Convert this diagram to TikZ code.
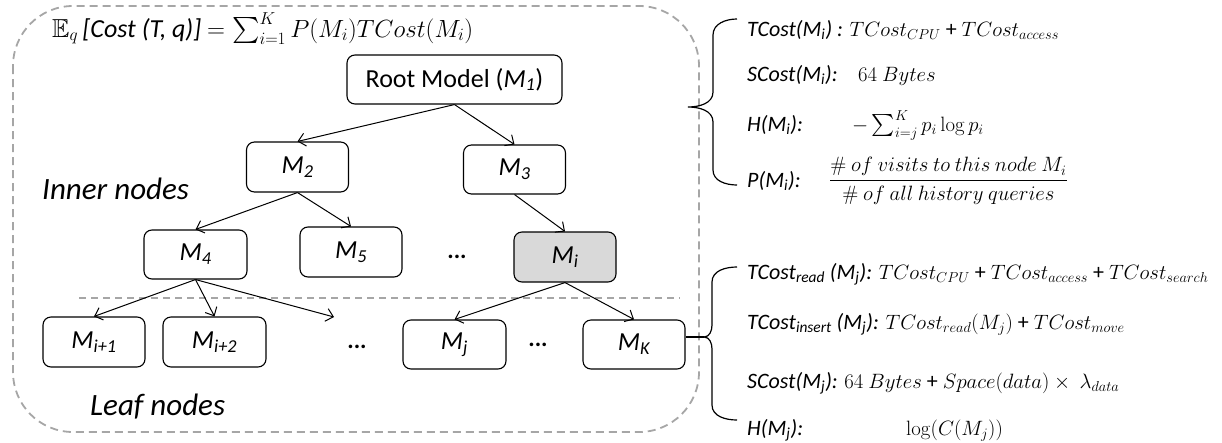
\documentclass[tikz,border=0pt]{standalone}
\usepackage[no-math]{fontspec}
\setmainfont{Carlito}
\usepackage{amssymb}
\usepackage{amsmath}
\usetikzlibrary{arrows.meta}
\newcommand{\Ms}[1]{\textit{M\textsubscript{#1}}}
\definecolor{dashgray}{HTML}{A6A6A6}
\definecolor{nodegray}{HTML}{D9D9D9}
\begin{document}
\begin{tikzpicture}[x=1pt,y=-1pt,
  mbox/.style={draw, rounded corners=8pt, line width=1.1pt, minimum width=102pt, minimum height=50pt, inner sep=0pt, font=\fontsize{26}{30}\selectfont\itshape},
  arr/.style={line width=1pt, -{Straight Barb[length=7pt,width=13pt]}},
  outer/.style={draw=dashgray, line width=1.8pt, dash pattern=on 8pt off 5pt},
  sepline/.style={draw=dashgray, line width=1.5pt, dash pattern=on 7pt off 5pt},
  big/.style={font=\fontsize{31}{35}\selectfont\itshape, inner sep=0pt},
  rt/.style={font=\fontsize{22}{26}\selectfont, inner sep=0pt, anchor=base west},
  dots/.style={font=\fontsize{24}{28}\selectfont\bfseries, inner sep=0pt},
  brace/.style={line width=1.2pt}]
\useasboundingbox (0,0) rectangle (1222,442);
% outer dashed container
\draw[outer, rounded corners=60pt] (13,6) rectangle (699,432);
% separator
\coordinate (s1) at (79,298);
\coordinate (s2) at (680,298);
\draw[sepline] (s1) -- (s2);
% title
\node[anchor=base west, inner sep=0pt, font=\fontsize{26}{30}\selectfont] (title) at (52,37)
  {$\mathbb{E}_q$\,\textit{[Cost (T, q)]} $= \sum_{i=1}^{K} P(M_i)TCost(M_i)$};
% nodes
\node[mbox, minimum width=215pt, minimum height=49pt, font=\fontsize{26}{30}\selectfont] (root) at (454.5,79.5) {Root Model (\Ms{1})};
\node[mbox] (m2) at (297.5,167) {\Ms{2}};
\node[mbox, minimum height=49pt] (m3) at (514.5,169.5) {\Ms{3}};
\node[mbox, minimum width=103pt, minimum height=49pt] (m4) at (195.5,254.5) {\Ms{4}};
\node[mbox] (m5) at (351,252) {\Ms{5}};
\node[mbox, fill=nodegray] (mi) at (565,257) {\Ms{i}};
\node[mbox] (mip1) at (94,342) {\Ms{i+1}};
\node[mbox, minimum width=103pt] (mip2) at (214.5,342) {\Ms{i+2}};
\node[mbox, minimum width=103pt, minimum height=49pt] (mj) at (454.5,344.5) {\Ms{j}};
\node[mbox, minimum height=49pt] (mk) at (634,344.5) {\Ms{K}};
\node[dots] (d1) at (457,257) {...};
\node[dots] (d2) at (357,347) {...};
\node[dots] (d3) at (538,345) {...};
\node[big, anchor=west] (inner) at (42,189) {Inner nodes};
\node[big, anchor=west] (leaf) at (90,407) {Leaf nodes};
% arrows
\coordinate (open) at (334,317);
\draw[arr] (root.south) -- (m2.north);
\draw[arr] (root.south) -- (m3.north);
\draw[arr] (m2.south) -- (m4.north);
\draw[arr] (m2.south) -- (m5.north);
\draw[arr] (m3.south) -- (mi.north);
\draw[arr] (m4.south) -- (mip1.north);
\draw[arr] (m4.south) -- (mip2.north);
\draw[arr] (m4.south) -- (open);
\draw[arr] (mi.south) -- (mj.north);
\draw[arr] (mi.south) -- (mk.north);
% upper brace
\coordinate (ub) at (688,107);
\draw[brace] (737,19) to[out=180,in=90] (713,35) -- (713,92) to[out=-90,in=0] (ub) to[out=0,in=90] (713,122) -- (713,170) to[out=-90,in=180] (737,185);
% lower brace
\coordinate (lb) at (704,337);
\draw[brace] (737,267) to[out=180,in=90] (712,282) -- (712,325) to[out=-90,in=0] (lb) to[out=0,in=90] (712,349) -- (712,405) to[out=-90,in=180] (737,420);
\draw[brace] (lb) -- (lb -| mk.east);
% upper texts
\node[rt] (u1) at (747,36) {\textit{TCost(\Ms{i}) :} $TCost_{CPU}$ + $TCost_{access}$};
\node[rt] (u2) at (747,81) {\textit{SCost(\Ms{i}):}};
\node[rt] (u2b) at (858,81) {$64\ Bytes$};
\node[rt] (u3) at (747,131) {\textit{H(\Ms{i}):}};
\node[rt] (u3b) at (852,131) {$-\sum_{i=j}^{K} p_i \log p_i$};
\node[rt] (u4) at (747,187) {\textit{P(\Ms{i}):}};
\node[rt, font=\fontsize{20.5}{24}\selectfont] (u4b) at (829,186) {$\dfrac{\#\ of\ visits\ to\ this\ node\ M_i}{\#\ of\ all\ history\ queries}$};
% lower texts
\node[rt] (l1) at (747,279) {\textit{TCost\textsubscript{read} (\Ms{j}):} $TCost_{CPU}$ + $TCost_{access}$ + $TCost_{search}$};
\node[rt] (l2) at (747,329) {\textit{TCost\textsubscript{insert} (\Ms{j}):} $TCost_{read}(M_j)$ + $TCost_{move}$};
\node[rt] (l3) at (747,388) {\textit{SCost(\Ms{j}):} $64\ Bytes$ + $Space(data)\times\ \lambda_{data}$};
\node[rt] (l4) at (747,435) {\textit{H(\Ms{j}):}};
\node[rt] (l4b) at (906,435) {$\log(C(M_j))$};
\end{tikzpicture}
\end{document}
